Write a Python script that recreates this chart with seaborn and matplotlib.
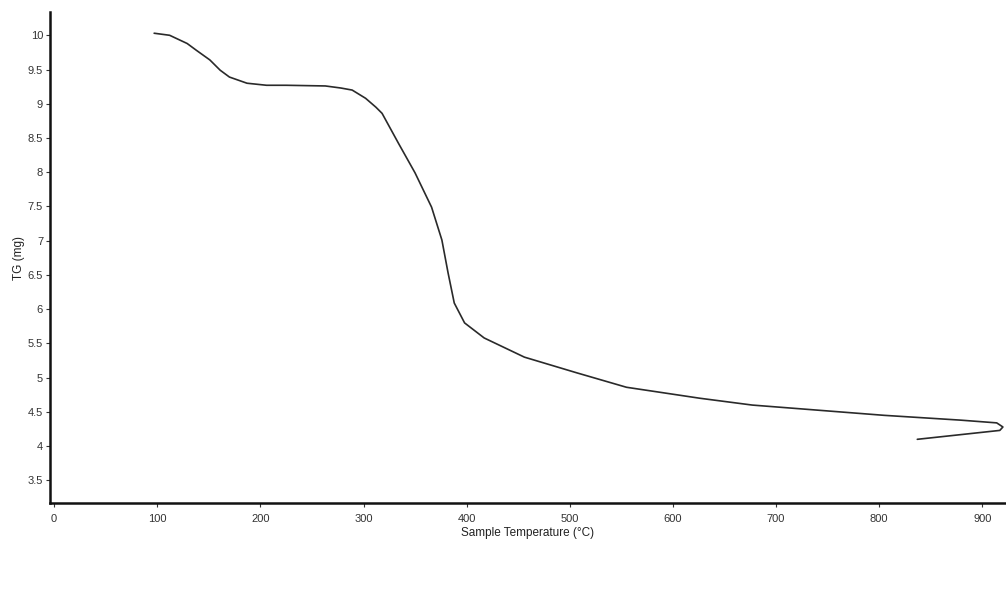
import numpy as np
import pandas as pd
import matplotlib
matplotlib.use("Agg")
import matplotlib.pyplot as plt
import seaborn as sns

# TG curve (temperature in °C, mass in mg)
# the run heats to ~920 °C and then swings back a little at the end
temperature = [97, 112, 129, 138, 151, 161, 170, 187, 206, 225, 263, 278, 289,
               302, 312, 318, 334, 350, 366, 376, 382, 388, 398, 417, 456, 507,
               555, 626, 677, 805, 879, 914, 920, 917, 837]
mass = [10.03, 10.0, 9.88, 9.78, 9.64, 9.49, 9.39, 9.30, 9.27, 9.27, 9.26, 9.23,
        9.20, 9.08, 8.95, 8.86, 8.42, 7.99, 7.49, 7.01, 6.53, 6.09, 5.80, 5.58,
        5.30, 5.07, 4.86, 4.70, 4.60, 4.45, 4.38, 4.34, 4.28, 4.23, 4.10]

x_ticks = [0, 100, 200, 300, 400, 500, 600, 700, 800, 900]
y_ticks = [3.5, 4, 4.5, 5, 5.5, 6, 6.5, 7, 7.5, 8, 8.5, 9, 9.5, 10]

tg = pd.DataFrame({"temp": temperature, "mass": mass})

sns.set_theme(style="white")
plt.rcParams["font.family"] = ["Liberation Sans", "DejaVu Sans"]

fig = plt.figure(figsize=(10.06, 5.9), dpi=100)
ax = fig.add_axes([50 / 1006, 87 / 590, 956 / 1006, 491 / 590])

sns.lineplot(data=tg, x="temp", y="mass", sort=False, estimator=None,
             color="#2a2a2a", linewidth=1.2, ax=ax)

ax.set_xlim(-4, 923)
ax.set_ylim(3.17, 10.34)
ax.set_xticks(x_ticks)
ax.set_yticks(y_ticks)
ax.set_yticklabels([f"{v:g}" for v in y_ticks])
ax.tick_params(axis="both", labelsize=8, length=3, width=0.8, color="#333333",
               direction="out", bottom=True, left=True, labelcolor="#333333",
               pad=2)
ax.tick_params(axis="x", pad=5)

for side in ["top", "right"]:
    ax.spines[side].set_visible(False)
for side in ["left", "bottom"]:
    ax.spines[side].set_color("#111111")
    ax.spines[side].set_linewidth(1.8)

ax.set_xlabel("Sample Temperature (°C)", fontsize=8.5, color="#222222", labelpad=2)
ax.set_ylabel("TG (mg)", fontsize=8.5, color="#222222", labelpad=2)

fig.savefig("out.png", dpi=100, facecolor="white")
